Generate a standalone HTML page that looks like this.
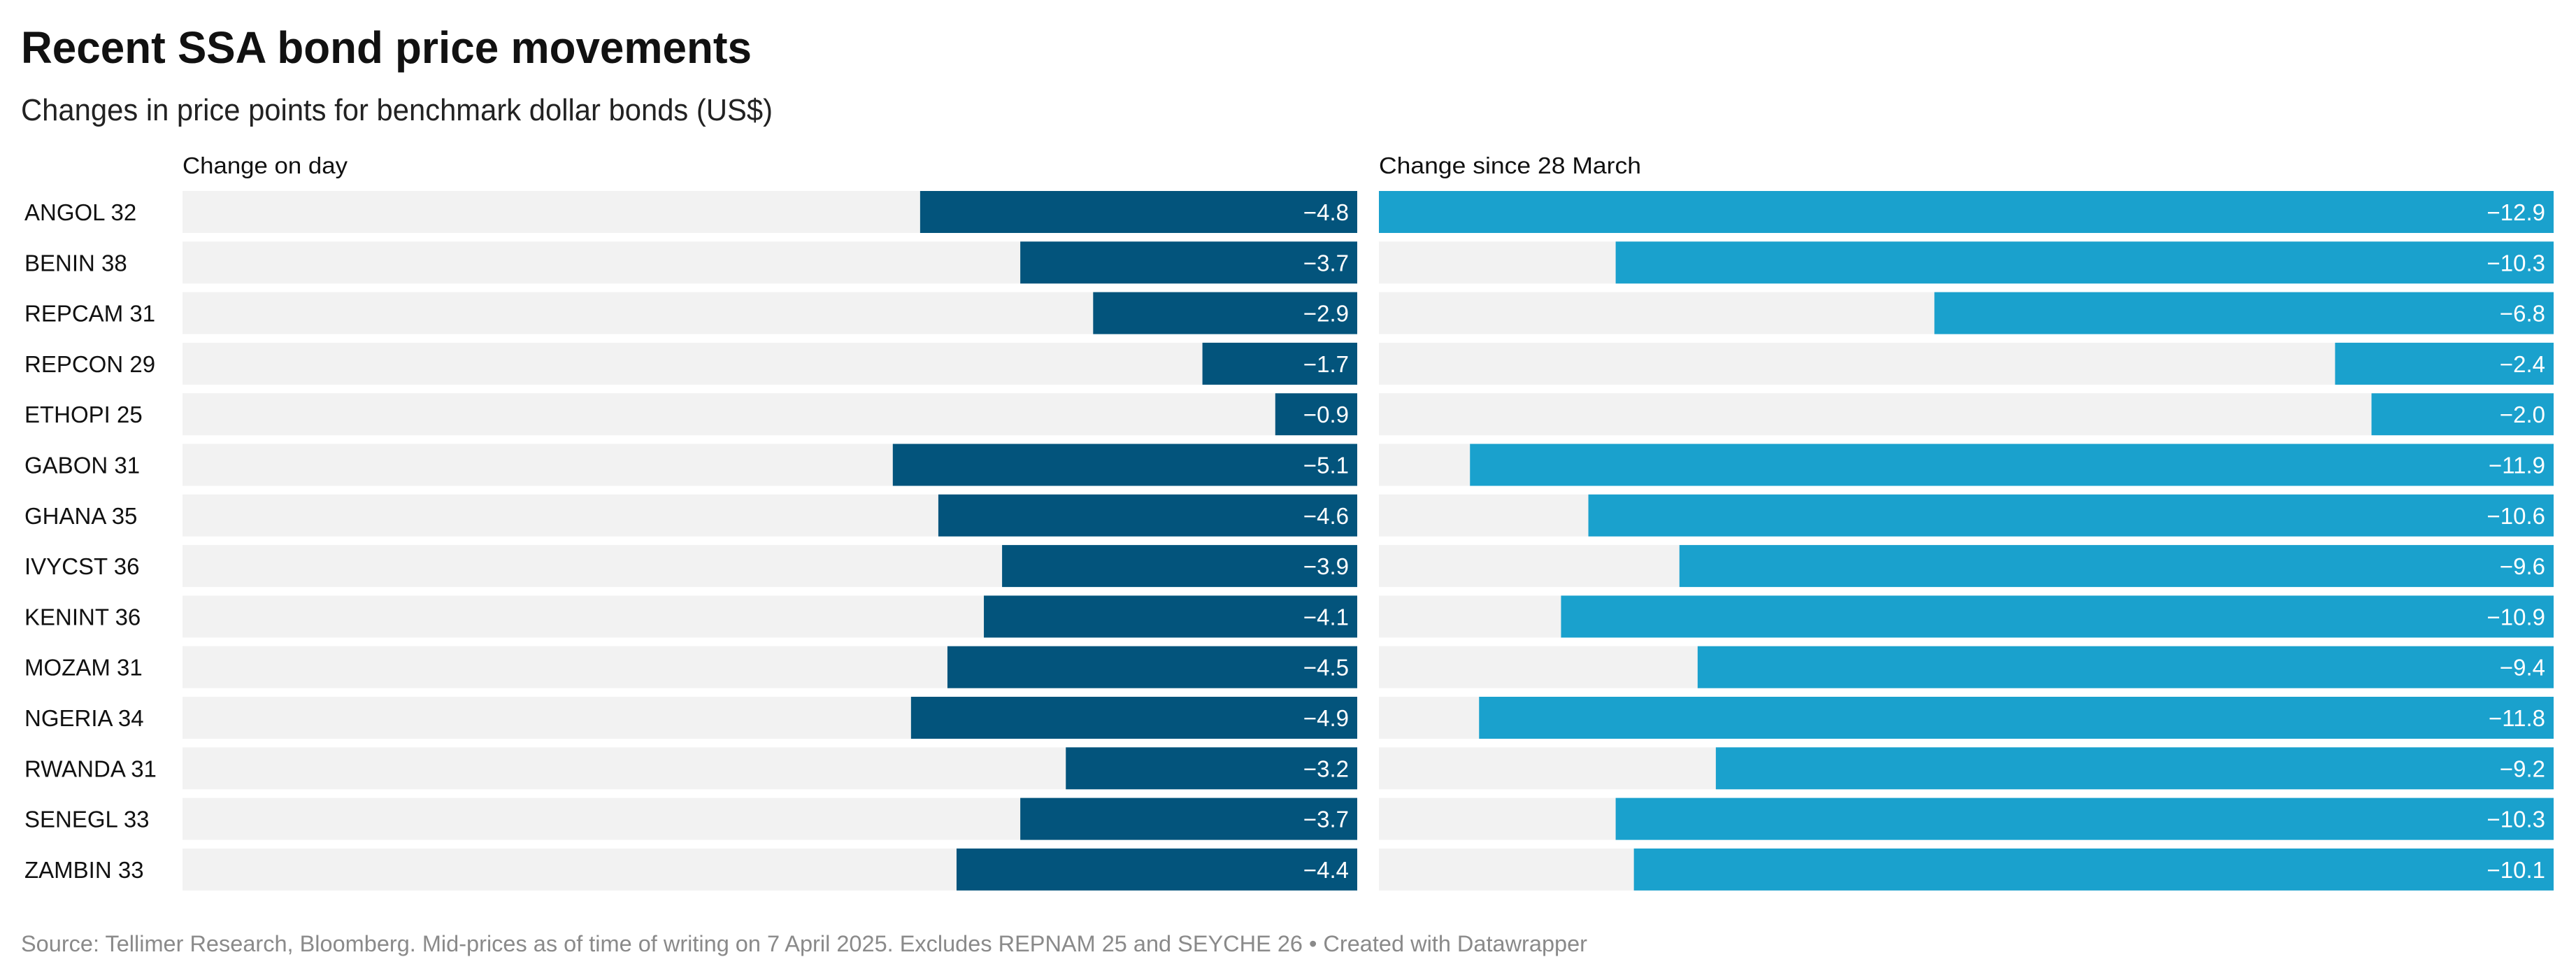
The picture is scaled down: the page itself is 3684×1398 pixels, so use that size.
<!DOCTYPE html>
<html><head><meta charset="utf-8"><style>
html,body{margin:0;padding:0;background:#fff;}
svg{display:block;font-family:"Liberation Sans",Arial,sans-serif;}
</style></head><body>
<svg id="chart" width="3684" height="1398" viewBox="0 0 3684 1398">
<text x="30" y="90" font-size="64" font-weight="bold" fill="#111" textLength="1045" lengthAdjust="spacingAndGlyphs">Recent SSA bond price movements</text>
<text x="30" y="172" font-size="44" fill="#222" textLength="1075" lengthAdjust="spacingAndGlyphs">Changes in price points for benchmark dollar bonds (US$)</text>
<text x="261" y="248" font-size="33" fill="#111" textLength="236" lengthAdjust="spacingAndGlyphs">Change on day</text>
<text x="1972" y="248" font-size="33" fill="#111" textLength="375" lengthAdjust="spacingAndGlyphs">Change since 28 March</text>
<g id="bars"></g>
<text x="30" y="1360" font-size="32" fill="#8a8a8a" textLength="2240" lengthAdjust="spacingAndGlyphs">Source: Tellimer Research, Bloomberg. Mid-prices as of time of writing on 7 April 2025. Excludes REPNAM 25 and SEYCHE 26 • Created with Datawrapper</text>
</svg>
<script>
const categories = ["ANGOL 32","BENIN 38","REPCAM 31","REPCON 29","ETHOPI 25","GABON 31","GHANA 35","IVYCST 36","KENINT 36","MOZAM 31","NGERIA 34","RWANDA 31","SENEGL 33","ZAMBIN 33"];
const changeOnDay = [-4.8,-3.7,-2.9,-1.7,-0.9,-5.1,-4.6,-3.9,-4.1,-4.5,-4.9,-3.2,-3.7,-4.4];
const changeSince = [-12.9,-10.3,-6.8,-2.4,-2.0,-11.9,-10.6,-9.6,-10.9,-9.4,-11.8,-9.2,-10.3,-10.1];
const domainMax = 12.9;
const NS = "http://www.w3.org/2000/svg";
const g = document.getElementById("bars");
const panelW = 1680, rowTop = 273, rowPitch = 72.3, barH = 60;
const panels = [{x:261, vals:changeOnDay, color:"#03547c", name:"day"},{x:1972, vals:changeSince, color:"#1aa1cd", name:"since"}];
function xScale(v){ return Math.abs(v)/domainMax*panelW; }
function yScale(i){ return rowTop + i*rowPitch; }
function mk(tag, attrs){ const e=document.createElementNS(NS,tag); for(const k in attrs) e.setAttribute(k,attrs[k]); g.appendChild(e); return e; }
categories.forEach((c,i)=>{
  const y = yScale(i);
  const lab = mk("text",{x:35,y:y+barH/2+12,"font-size":33,fill:"#111"});
  lab.textContent = c;
  
  
  panels.forEach(p=>{
    const bg = mk("rect",{x:p.x,y:y,width:panelW,height:barH,fill:"#f2f2f2"});
    
    
    const w = xScale(p.vals[i]);
    const b = mk("rect",{x:p.x+panelW-w,y:y,width:w,height:barH,fill:p.color});
    
    
    const t = mk("text",{x:p.x+panelW-12,y:y+barH/2+12,"font-size":33,fill:"#fff","text-anchor":"end"});
    t.textContent = "\u2212" + Math.abs(p.vals[i]).toFixed(1);
    
    
  });
});
</script>
</body></html>
